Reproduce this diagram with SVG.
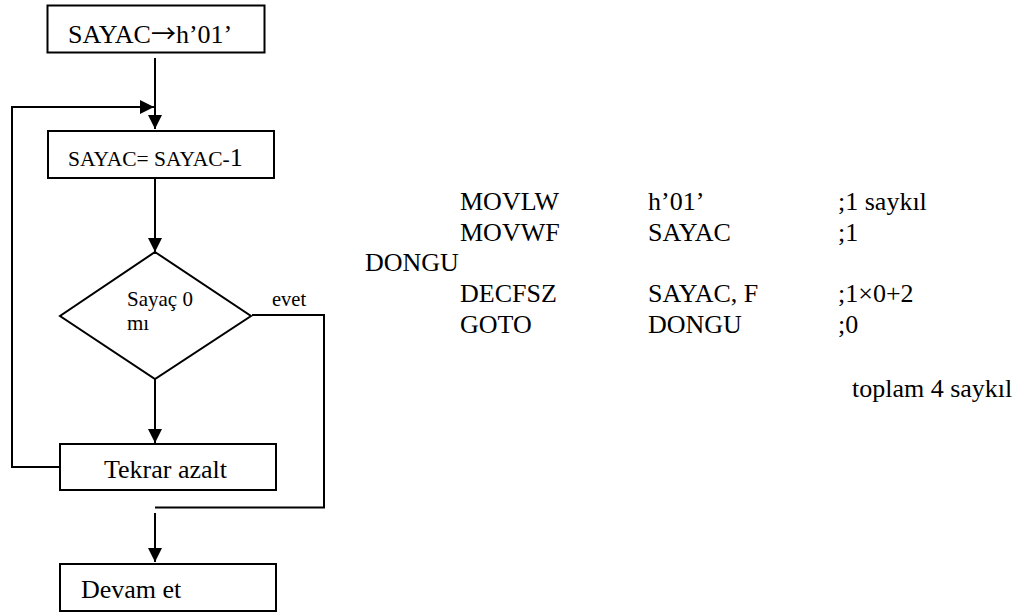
<svg xmlns="http://www.w3.org/2000/svg" width="1018" height="613" viewBox="0 0 1018 613">
<style>
  .box { fill: #fff; stroke: #000; stroke-width: 2; }
  .ln { fill: none; stroke: #000; stroke-width: 2; }
  .t { font-family: "Liberation Serif", "Times New Roman", serif; fill: #000; }
  .big { font-size: 26px; }
  .mid { font-size: 21px; }
  .code { font-size: 26px; }
  .sym { font-family: "Noto Sans CJK SC", "DejaVu Sans", sans-serif; }
</style>
<defs>
  <marker id="arr" markerUnits="userSpaceOnUse" markerWidth="15" markerHeight="15" refX="14" refY="7" orient="auto">
    <path d="M0,0 L14,7 L0,14 z" fill="#000"/>
  </marker>
</defs>
<rect width="1018" height="613" fill="#fff"/>
<g id="connectors">
  <path class="ln" d="M155,58 L155,129" marker-end="url(#arr)"/>
  <path class="ln" d="M60,467 L12,467 L12,107 L154,107" marker-end="url(#arr)"/>
  <path class="ln" d="M155,179 L155,252" marker-end="url(#arr)"/>
  <path class="ln" d="M155,379 L155,443" marker-end="url(#arr)"/>
  <path class="ln" d="M252,315 L324,315 L324,507.5 L155,507.5"/>
  <path class="ln" d="M155,513 L155,562" marker-end="url(#arr)"/>
</g>
<g id="node-init">
  <rect class="box" x="47.5" y="5.5" width="217" height="47"/>
  <text class="t big" x="68" y="43">SAYAC<tspan class="sym" font-size="25">→</tspan>h’01’</text>
</g>
<g id="node-dec">
  <rect class="box" x="48" y="131" width="226" height="47"/>
  <text class="t" x="68" y="166" font-size="21.5">SAYAC= SAYAC-<tspan font-size="26">1</tspan></text>
</g>
<g id="node-cond">
  <polygon class="box" points="155,252 251,316 155,379 60,316"/>
  <text class="t mid" x="127" y="306">Sayaç 0</text>
  <text class="t mid" x="127" y="330">mı</text>
  <text class="t" x="272" y="306" font-size="20.5">evet</text>
</g>
<g id="node-repeat">
  <rect class="box" x="60" y="444" width="216" height="46"/>
  <text class="t big" x="104" y="478">Tekrar azalt</text>
</g>
<g id="node-continue">
  <rect class="box" x="60" y="564" width="216" height="47"/>
  <text class="t big" x="81" y="598">Devam et</text>
</g>
<g id="code" class="t code">
  <text x="460" y="210">MOVLW</text>
  <text x="648" y="210">h’01’</text>
  <text x="838" y="210">;1 saykıl</text>
  <text x="460" y="241">MOVWF</text>
  <text x="648" y="241">SAYAC</text>
  <text x="838" y="241">;1</text>
  <text x="365" y="271">DONGU</text>
  <text x="460" y="302">DECFSZ</text>
  <text x="648" y="302">SAYAC, F</text>
  <text x="838" y="302">;1×0+2</text>
  <text x="460" y="333">GOTO</text>
  <text x="648" y="333">DONGU</text>
  <text x="838" y="333">;0</text>
  <text x="852" y="397">toplam 4 saykıl</text>
</g>
</svg>
